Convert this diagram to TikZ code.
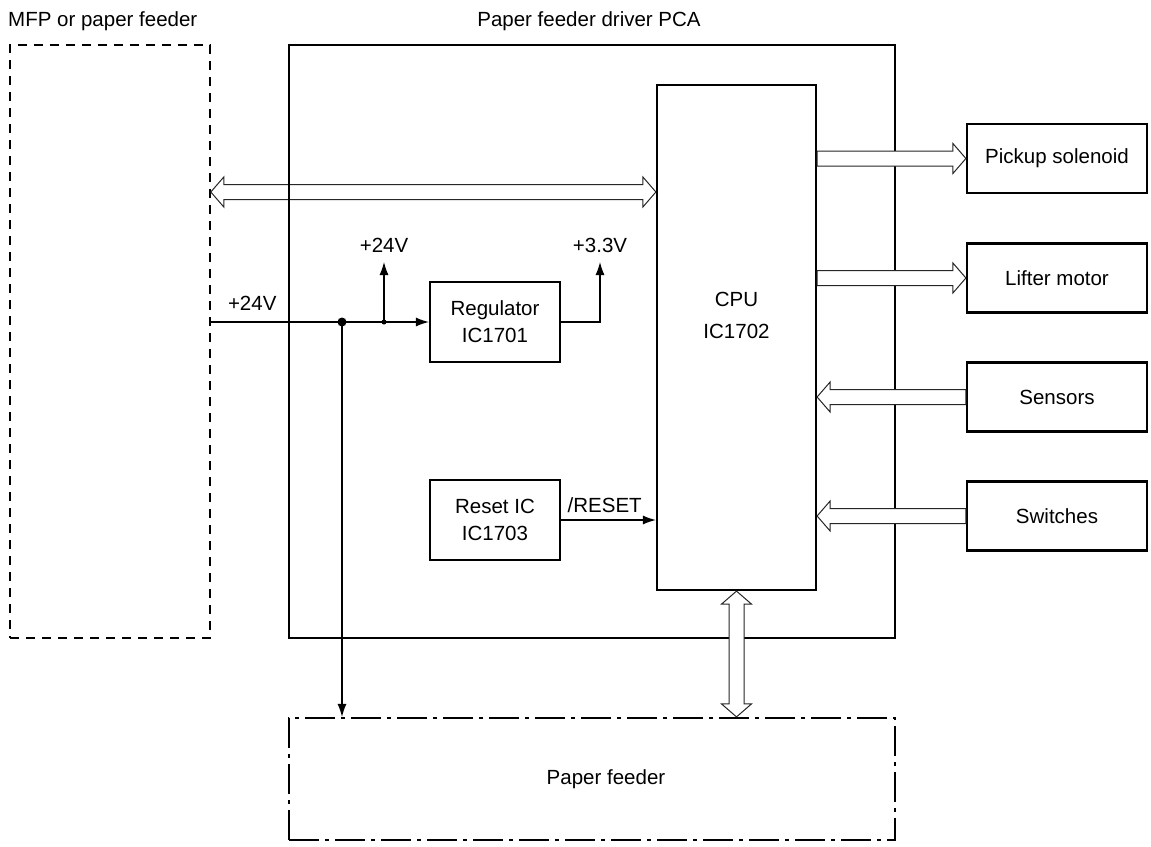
\documentclass[tikz,border=0pt]{standalone}
\usepackage{fontspec}
\setmainfont{Liberation Sans}
\usetikzlibrary{arrows.meta,positioning,calc}

% hollow bus arrows (shaft half width, head half width, head length)
\newcommand{\buswd}{7.5pt}
\newcommand{\bushd}{15pt}
\newcommand{\buslen}{13pt}
\newcommand{\busarrow}[2]{%
  \coordinate (bh) at ($(#2)!\buslen!(#1)$);
  \filldraw[bus] ($(#1)!\buswd!90:(#2)$) -- ($(bh)!\buswd!90:(#2)$)
    -- ($(bh)!\bushd!90:(#2)$) -- (#2) -- ($(bh)!\bushd!-90:(#2)$)
    -- ($(bh)!\buswd!-90:(#2)$) -- ($(#1)!\buswd!-90:(#2)$) -- cycle;}
\newcommand{\busboth}[2]{%
  \coordinate (ba) at ($(#1)!\buslen!(#2)$);
  \coordinate (bh) at ($(#2)!\buslen!(#1)$);
  \filldraw[bus] (#1) -- ($(ba)!\bushd!90:(#2)$) -- ($(ba)!\buswd!90:(#2)$)
    -- ($(bh)!\buswd!90:(#2)$) -- ($(bh)!\bushd!90:(#2)$) -- (#2)
    -- ($(bh)!\bushd!-90:(#2)$) -- ($(bh)!\buswd!-90:(#2)$)
    -- ($(ba)!\buswd!-90:(#2)$) -- ($(ba)!\bushd!-90:(#2)$) -- cycle;}

\begin{document}
\begin{tikzpicture}[
    x=1pt, y=-1pt,
    font=\fontsize{20.5}{24}\selectfont,
    box/.style={draw, line width=2.2pt, align=center, inner sep=0pt,
        font=\fontsize{20.5}{27}\selectfont},
    frame/.style={draw, line width=2.2pt},
    dashbox/.style={draw, line width=1.6pt, dash pattern=on 9pt off 7pt},
    dashdot/.style={draw, line width=2.2pt, dash pattern=on 30pt off 6pt on 4pt off 6pt},
    sig/.style={line width=1.2pt, -{Latex[length=13pt,width=9pt]}},
    bus/.style={draw=black!85, fill=white, line width=1pt, line join=miter},
    vlabel/.style={inner sep=0pt},
]
\useasboundingbox (0,0) rectangle (1151,846);

\node[dashbox, minimum width=200pt, minimum height=593pt] (mfp) at (110,341.5) {};
\node[vlabel, anchor=base west] (mfplbl) at (8,26) {MFP or paper feeder};
\node[vlabel, anchor=base] (pcalbl) at (589,26) {Paper feeder driver PCA};

\node[box, minimum width=159pt, minimum height=505pt,
    label={[align=center, yshift=22pt]center:{CPU\\[8pt]IC1702}}] (cpu) at (736.5,337.5) {};

% bus to the MFP, drawn before the PCA frame
\coordinate (lbus) at (mfp.east |- 0,192);
\coordinate (rbus) at (cpu.west |- lbus);
\busboth{lbus}{rbus}

\node[frame, minimum width=606pt, minimum height=593pt] (pca) at (592,341.5) {};
\node[dashdot, minimum width=606pt, minimum height=122pt,
    label={[xshift=14pt]center:Paper feeder}] (feeder) at (592,779) {};

\node[box, minimum width=130pt, minimum height=80pt] (reg) at (495,322) {Regulator\\IC1701};
\node[box, minimum width=130pt, minimum height=80pt] (rst) at (495,520) {Reset IC\\IC1703};

\node[box, minimum width=180pt, minimum height=69pt] (pick) at (1057,158.5) {Pickup solenoid};
\node[box, minimum width=180pt, minimum height=69pt] (lift) at (1057,278) {Lifter motor};
\node[box, minimum width=180pt, minimum height=69pt] (sens) at (1057,397) {Sensors};
\node[box, minimum width=180pt, minimum height=69pt] (sw) at (1057,516) {Switches};

% power and reset lines
\coordinate (j1) at (342,322);
\coordinate (j2) at (384,322);
\coordinate (v24) at (384,262);
\coordinate (v33) at (600,262);
\draw[sig] (mfp.east |- reg.west) -- node[vlabel, pos=0.19, above=11pt] {+24V} (reg.west);
\draw[sig] (j2) -- (v24) node[vlabel, above=9pt] {+24V};
\draw[sig] (reg.east) -| (v33) node[vlabel, above=9pt] {+3.3V};
\draw[sig] (j1) -- (j1 |- feeder.north);
\fill (j1) circle (4.5pt);
\fill (j2) circle (2.5pt);
\draw[sig] (rst.east) -- node[vlabel, pos=0.46, above=7pt] {/RESET} (rst.east -| cpu.west);

% buses
\foreach \n in {pick,lift} {\coordinate (o\n) at (cpu.east |- \n.west); \busarrow{o\n}{\n.west}}
\foreach \n in {sens,sw} {\coordinate (i\n) at (cpu.east |- \n.west); \busarrow{\n.west}{i\n}}
\coordinate (fbus) at (cpu.south |- feeder.north);
\busboth{cpu.south}{fbus}
\end{tikzpicture}
\end{document}
